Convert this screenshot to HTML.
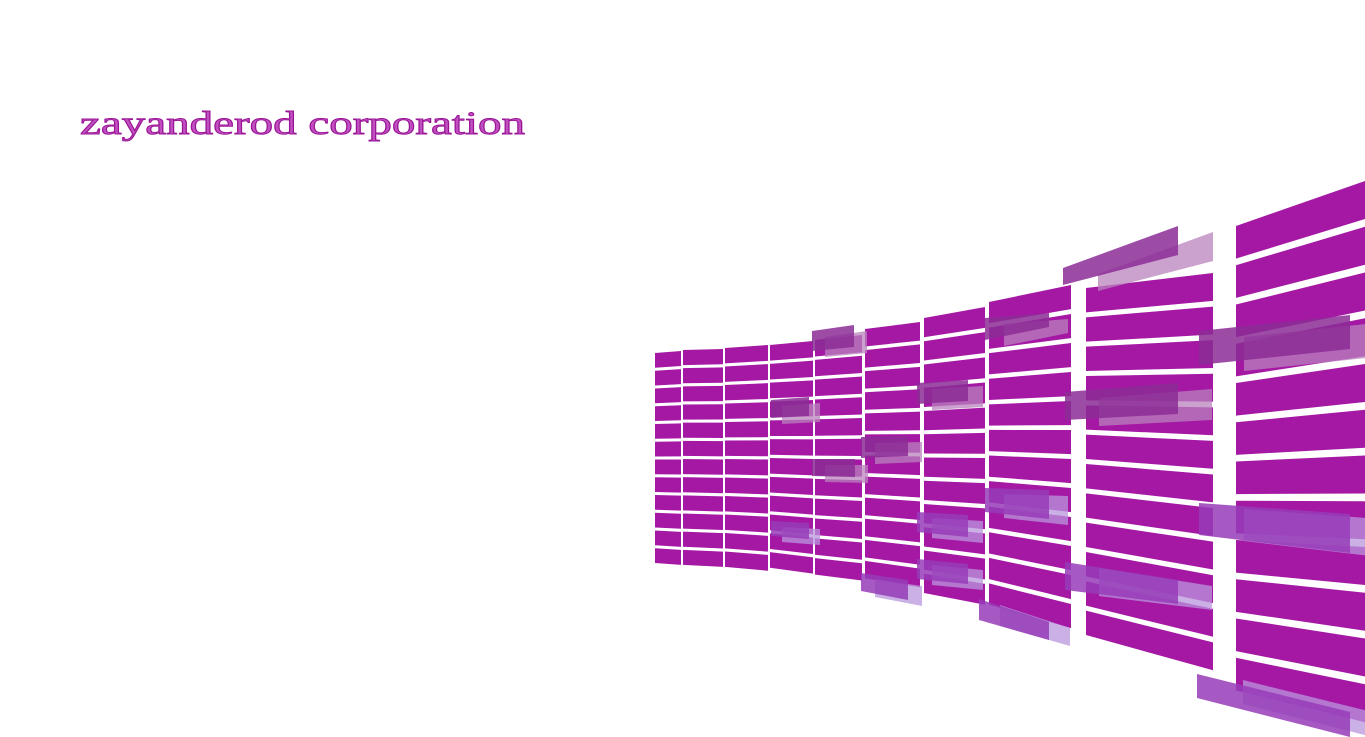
<!DOCTYPE html>
<html><head><meta charset="utf-8"><style>
html,body{margin:0;padding:0;background:#fff;width:1365px;height:737px;overflow:hidden}
svg{display:block}
</style></head><body>
<svg id="art" width="1365" height="737" viewBox="0 0 1365 737" xmlns="http://www.w3.org/2000/svg">
<rect x="0" y="0" width="1365" height="737" fill="#ffffff"/>
<text x="80" y="134" font-family="'Liberation Serif', serif" font-size="33" textLength="445" lengthAdjust="spacingAndGlyphs" fill="#c050c0" stroke="#9a1496" stroke-width="0.9">zayanderod corporation</text>
<g id="grid"></g>
<g id="shadows"></g>
<g id="overlays"></g>
</svg>
<script>
// column geometry: x-left, x-right, top-left y, top-right y, bottom-left y, bottom-right y
const colX0 = [655,683,725,770,815,865,924,989,1086,1236];
const colX1 = [681,723,768,813,862,920,985,1071,1213,1365];
const colTop0 = [353,350,348,345,340,329,318,302,288,226];
const colTop1 = [351,349,345,341,335,322,307,285,273,181];
const colBot0 = [566,568,570,571,578,582,597,609,640,697];
const colBot1 = [568,570,574,577,584,591,609,633,676,730];
const rowCount = 12;
// overlay quads: tl, tr, br, bl
const ovX0 = [1063,812,985,1199,917,771,1065,861,812,985,917,1199,771,1065,917,861,979,1197];
const ovX1 = [1178,854,1049,1350,968,809,1178,908,855,1049,968,1350,809,1178,968,908,1049,1350];
const ovTL = [268,331,318,331,383,400,392,437,459,488,512,503,521,562,559,573,599,674];
const ovTR = [226,325,313,315,380,397,383,436,459,490,515,514,523,580,564,580,622,712];
const ovBR = [255,347,327,349,401,416,414,456,477,519,537,553,539,604,584,600,640,737];
const ovBL = [285,351,340,365,404,418,420,458,476,512,532,535,536,590,579,591,620,698];
const NS='http://www.w3.org/2000/svg';
const grid=document.getElementById('grid');
for(let c=0;c<colX0.length;c++){
  const h0=(colBot0[c]-colTop0[c])/rowCount, h1=(colBot1[c]-colTop1[c])/rowCount;
  for(let r=0;r<rowCount;r++){
    const g=0.17;
    const a0=colTop0[c]+h0*r, a1=colTop1[c]+h1*r;
    const b0=a0+h0*(1-g), b1=a1+h1*(1-g);
    const p=document.createElementNS(NS,'polygon');
    p.setAttribute('points',`${colX0[c]},${a0} ${colX1[c]},${a1} ${colX1[c]},${b1} ${colX0[c]},${b0}`);
    p.setAttribute('fill','#a418a4');
    
    
    grid.appendChild(p);
  }
}
const sh=document.getElementById('shadows'), ov=document.getElementById('overlays');
for(let i=0;i<ovX0.length;i++){
  const w=ovX1[i]-ovX0[i], dx=Math.round(w*0.3), dy=6;
  const lower = ovTL[i]>470;
  const s=document.createElementNS(NS,'polygon');
  s.setAttribute('points',`${ovX0[i]+dx},${ovTL[i]+dy} ${ovX1[i]+dx},${ovTR[i]+dy} ${ovX1[i]+dx},${ovBR[i]+dy} ${ovX0[i]+dx},${ovBL[i]+dy}`);
  s.setAttribute('fill',lower?'rgba(185,150,220,0.75)':'rgba(185,130,190,0.75)');
  
  
  sh.appendChild(s);
  const o=document.createElementNS(NS,'polygon');
  o.setAttribute('points',`${ovX0[i]},${ovTL[i]} ${ovX1[i]},${ovTR[i]} ${ovX1[i]},${ovBR[i]} ${ovX0[i]},${ovBL[i]}`);
  o.setAttribute('fill',lower?'rgba(150,60,185,0.85)':'rgba(140,45,150,0.85)');
  
  
  ov.appendChild(o);
}
</script>
</body></html>
